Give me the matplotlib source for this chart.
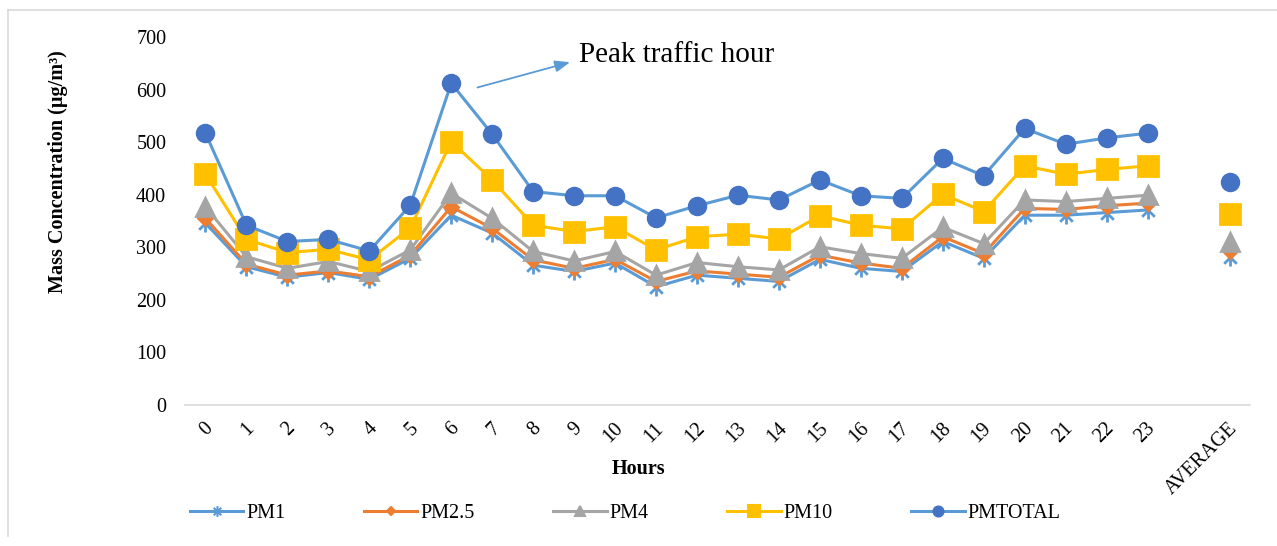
import numpy as np
import matplotlib.pyplot as plt
import matplotlib.transforms as mtrans
from matplotlib.path import Path
from matplotlib.markers import MarkerStyle
from matplotlib.lines import Line2D

plt.rcParams['font.family'] = ['Liberation Serif', 'DejaVu Serif']

hours = [str(h) for h in range(24)]
labels = hours + ['', 'AVERAGE']

pm1 = [346, 263, 243, 252, 239, 279, 361, 327, 266, 254, 270, 225, 247, 241, 235, 277,
       260, 254, 311, 279, 361, 361, 366, 371]
pm25 = [355, 268, 247, 255, 244, 285, 377, 336, 276, 260, 277, 235, 255, 249, 243, 285,
        270, 260, 320, 288, 374, 372, 379, 384]
pm4 = [377, 282, 260, 273, 254, 295, 403, 355, 292, 274, 292, 247, 271, 263, 257, 301,
       288, 279, 338, 307, 390, 387, 393, 399]
pm10 = [439, 315, 290, 296, 276, 337, 501, 428, 342, 330, 339, 295, 320, 325, 316, 360,
        342, 335, 401, 368, 455, 439, 448, 455]
pmtotal = [517, 342, 311, 315, 293, 380, 612, 515, 406, 398, 398, 356, 379, 399, 390, 428,
           398, 393, 469, 436, 526, 496, 508, 517]
averages = {'PM1': 282, 'PM2.5': 292, 'PM4': 311, 'PM10': 364, 'PMTOTAL': 425}

# Excel style star marker: vertical bar plus an X
star = Path([(0, -1), (0, 1), (-0.7, -0.7), (0.7, 0.7), (-0.7, 0.7), (0.7, -0.7)],
            [Path.MOVETO, Path.LINETO, Path.MOVETO, Path.LINETO, Path.MOVETO, Path.LINETO])

series = [
    ('PM1', pm1, '#5B9BD5', '#5B9BD5', MarkerStyle(star), 13),
    ('PM2.5', pm25, '#ED7D31', '#ED7D31', 'D', 7),
    ('PM4', pm4, '#A5A5A5', '#A5A5A5', '^', 13),
    ('PM10', pm10, '#FFC000', '#FFC000', 's', 14),
    ('PMTOTAL', pmtotal, '#5B9BD5', '#4472C4', 'o', 12),
]

fig = plt.figure(figsize=(12.77, 5.46), dpi=100)
W, H = 1277, 546
ax = fig.add_axes([185 / W, 1 - 405 / H, (1250 - 185) / W, (405 - 37) / H])

x = np.arange(len(labels))
handles = []
for name, vals, lc, mc, mk, ms in series:
    y = np.array(vals + [np.nan, averages[name]], dtype=float)
    ax.plot(x, y, color=lc, lw=2.2, marker=mk, ms=ms, mfc=mc, mec=mc, mew=2)
    handles.append(Line2D([], [], color=lc, lw=2.2, marker=mk, ms=ms * 0.6,
                          mfc=mc, mec=mc, mew=1.5, label=name))

ax.set_xlim(-0.5, len(labels) - 0.5)
ax.set_ylim(0, 700)
ax.set_yticks(range(0, 701, 100))
ax.set_xticks(x)
ax.set_xticklabels(labels, rotation=45, ha='right', va='center', rotation_mode='anchor')
ax.tick_params(axis='both', length=0, labelsize=14.5)
ax.tick_params(axis='x', pad=15)
ax.tick_params(axis='y', pad=13.5)
for s in ['top', 'right', 'left']:
    ax.spines[s].set_visible(False)
ax.spines['bottom'].set_color('#D9D9D9')
ax.spines['bottom'].set_linewidth(1.2)

# shift tick labels a little to the right so they sit under the ticks
off = mtrans.ScaledTranslation(5 / 100, 0, fig.dpi_scale_trans)
for lab in ax.get_xticklabels():
    lab.set_transform(lab.get_transform() + off)

fig.text(638 / W, 1 - 469 / H, 'Hours', ha='center', va='center',
         fontsize=14.5, fontweight='bold')
fig.text(58 / W, 1 - 172 / H, 'Mass Concentration (µg/m³)', ha='center', va='center',
         rotation=90, fontsize=14.5, fontweight='bold')

# annotation for the peak hour
peak_i = int(np.argmax(pmtotal))
peak = pmtotal[peak_i]
ax.annotate('', xy=(peak_i + 2.9, peak + 40), xytext=(peak_i + 0.64, peak - 8),
            arrowprops=dict(arrowstyle='-|>,head_length=0.9,head_width=0.35',
                            color='#5B9BD5', lw=1.3, shrinkA=0, shrinkB=0))
ax.text(peak_i + 3.12, peak + 53, 'Peak traffic hour', fontsize=21, va='center', ha='left')

fig.legend(handles=handles, loc='center left', bbox_to_anchor=(190 / W, 1 - 513 / H),
           ncol=5, frameon=False, fontsize=14.5, handlelength=2.65, handletextpad=0.15,
           columnspacing=3.9, borderpad=0, borderaxespad=0)

# chart border (left and top edges visible)
fig.add_artist(Line2D([8 / W, 8 / W], [1 - 536 / H, 1 - 10 / H], color='#D9D9D9', lw=1.2))
fig.add_artist(Line2D([8 / W, 1], [1 - 10 / H, 1 - 10 / H], color='#D9D9D9', lw=1.2))

fig.savefig('out.png', dpi=100)
